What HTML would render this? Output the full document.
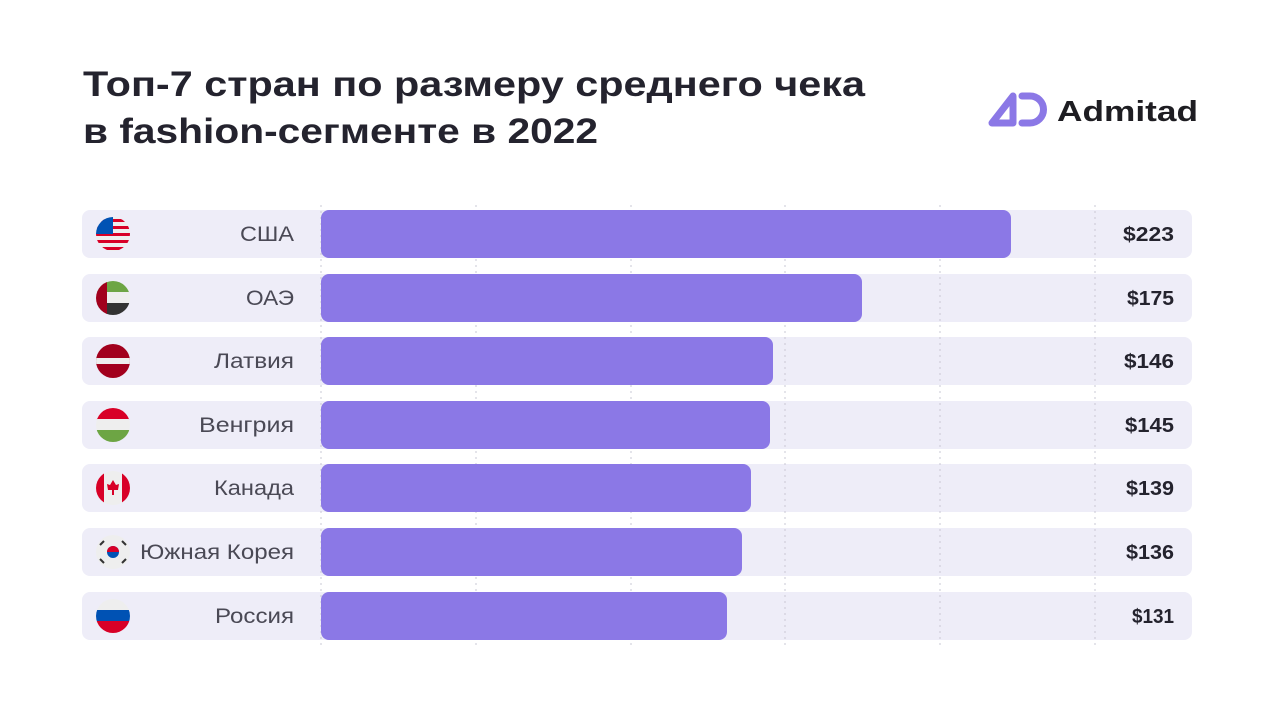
<!DOCTYPE html>
<html><head><meta charset="utf-8"><style>
body{margin:0;width:1280px;height:720px;background:#fff;overflow:hidden;font-family:"Liberation Sans",sans-serif}
</style></head><body>
<svg width="1280" height="720" xmlns="http://www.w3.org/2000/svg" font-family="Liberation Sans, sans-serif">
<defs>
<clipPath id="c1"><circle cx="113" cy="234" r="17"/></clipPath>
<clipPath id="c2"><circle cx="113" cy="298" r="17"/></clipPath>
<clipPath id="c3"><circle cx="113" cy="361" r="17"/></clipPath>
<clipPath id="c4"><circle cx="113" cy="425" r="17"/></clipPath>
<clipPath id="c5"><circle cx="113" cy="488" r="17"/></clipPath>
<clipPath id="c6"><circle cx="113" cy="552" r="17"/></clipPath>
<clipPath id="c7"><circle cx="113" cy="616" r="17"/></clipPath>
</defs>
<text x="83" y="96" font-size="35" font-weight="bold" fill="#24232e" textLength="782" lengthAdjust="spacingAndGlyphs">Топ-7 стран по размеру среднего чека</text>
<text x="83" y="143" font-size="35" font-weight="bold" fill="#24232e" textLength="515" lengthAdjust="spacingAndGlyphs">в fashion-сегменте в 2022</text>
<g fill="none" stroke="#8b78e6" stroke-width="7" stroke-linejoin="round" stroke-linecap="round">
<path d="M992 123 L1013 96 L1013 123 Z"/>
<path d="M1022 96 h8 a13.5 13.5 0 0 1 0 27 h-8"/>
</g>
<text x="1057" y="121" font-size="29" font-weight="bold" fill="#1e1d22" textLength="141" lengthAdjust="spacingAndGlyphs">Admitad</text>
<g fill="#eeedf8">
<rect x="82" y="210" width="1110" height="48" rx="8"/>
<rect x="82" y="274" width="1110" height="48" rx="8"/>
<rect x="82" y="337" width="1110" height="48" rx="8"/>
<rect x="82" y="401" width="1110" height="48" rx="8"/>
<rect x="82" y="464" width="1110" height="48" rx="8"/>
<rect x="82" y="528" width="1110" height="48" rx="8"/>
<rect x="82" y="592" width="1110" height="48" rx="8"/>
</g>
<g stroke="#c9c8d4" stroke-width="1" stroke-dasharray="2,4">
<line x1="321" y1="205" x2="321" y2="645"/><line x1="476" y1="205" x2="476" y2="645"/>
<line x1="631" y1="205" x2="631" y2="645"/><line x1="785" y1="205" x2="785" y2="645"/>
<line x1="940" y1="205" x2="940" y2="645"/><line x1="1095" y1="205" x2="1095" y2="645"/>
</g>
<g fill="#8b78e6">
<rect x="321" y="210" width="690" height="48" rx="8"/>
<rect x="321" y="274" width="541" height="48" rx="8"/>
<rect x="321" y="337" width="452" height="48" rx="8"/>
<rect x="321" y="401" width="449" height="48" rx="8"/>
<rect x="321" y="464" width="430" height="48" rx="8"/>
<rect x="321" y="528" width="421" height="48" rx="8"/>
<rect x="321" y="592" width="406" height="48" rx="8"/>
</g>
<g font-size="21" fill="#4a4955" text-anchor="end">
<text x="294" y="241" textLength="54" lengthAdjust="spacingAndGlyphs">США</text>
<text x="294" y="305" textLength="48" lengthAdjust="spacingAndGlyphs">ОАЭ</text>
<text x="294" y="368" textLength="80" lengthAdjust="spacingAndGlyphs">Латвия</text>
<text x="294" y="432" textLength="95" lengthAdjust="spacingAndGlyphs">Венгрия</text>
<text x="294" y="495" textLength="80" lengthAdjust="spacingAndGlyphs">Канада</text>
<text x="294" y="559" textLength="154" lengthAdjust="spacingAndGlyphs">Южная Корея</text>
<text x="294" y="623" textLength="79" lengthAdjust="spacingAndGlyphs">Россия</text>
</g>
<g font-size="20" font-weight="bold" fill="#24232e" text-anchor="end">
<text x="1174" y="241" textLength="51" lengthAdjust="spacingAndGlyphs">$223</text>
<text x="1174" y="305" textLength="47" lengthAdjust="spacingAndGlyphs">$175</text>
<text x="1174" y="368" textLength="50" lengthAdjust="spacingAndGlyphs">$146</text>
<text x="1174" y="432" textLength="49" lengthAdjust="spacingAndGlyphs">$145</text>
<text x="1174" y="495" textLength="48" lengthAdjust="spacingAndGlyphs">$139</text>
<text x="1174" y="559" textLength="48" lengthAdjust="spacingAndGlyphs">$136</text>
<text x="1174" y="623" textLength="42" lengthAdjust="spacingAndGlyphs">$131</text>
</g>
<g clip-path="url(#c1)"><rect x="96" y="217" width="34" height="34" fill="#eee"/>
<g fill="#d80027"><rect x="96" y="219" width="34" height="3"/><rect x="96" y="226" width="34" height="3"/><rect x="96" y="233" width="34" height="3"/><rect x="96" y="240" width="34" height="3"/><rect x="96" y="247" width="34" height="3"/></g>
<rect x="96" y="217" width="17" height="17" fill="#0052b4"/></g>
<g clip-path="url(#c2)"><rect x="96" y="281" width="34" height="12" fill="#6da544"/><rect x="96" y="292" width="34" height="12" fill="#eee"/><rect x="96" y="303" width="34" height="12" fill="#333"/><rect x="96" y="281" width="11" height="34" fill="#a2001d"/></g>
<g clip-path="url(#c3)"><rect x="96" y="344" width="34" height="34" fill="#a2001d"/><rect x="96" y="358" width="34" height="6" fill="#eee"/></g>
<g clip-path="url(#c4)"><rect x="96" y="408" width="34" height="12" fill="#d80027"/><rect x="96" y="419" width="34" height="12" fill="#eee"/><rect x="96" y="430" width="34" height="12" fill="#6da544"/></g>
<g clip-path="url(#c5)"><rect x="96" y="471" width="34" height="34" fill="#eee"/><rect x="96" y="471" width="8" height="34" fill="#d80027"/><rect x="122" y="471" width="8" height="34" fill="#d80027"/><path d="M113 480 l3 5 3-1 -1 6 -5 0 -5 0 -1-6 3 1z M112 490 h2 v5 h-2z" fill="#d80027"/></g>
<g clip-path="url(#c6)"><rect x="96" y="535" width="34" height="34" fill="#eee"/><circle cx="113" cy="552" r="6" fill="#0052b4"/><path d="M107 552 a6 6 0 0 1 12 0z" fill="#d80027"/><g stroke="#333" stroke-width="2"><line x1="100" y1="545" x2="104" y2="541"/><line x1="122" y1="541" x2="126" y2="545"/><line x1="100" y1="559" x2="104" y2="563"/><line x1="122" y1="563" x2="126" y2="559"/></g></g>
<g clip-path="url(#c7)"><rect x="96" y="599" width="34" height="12" fill="#eee"/><rect x="96" y="610" width="34" height="12" fill="#0052b4"/><rect x="96" y="621" width="34" height="12" fill="#d80027"/></g>
</svg>
</body></html>
